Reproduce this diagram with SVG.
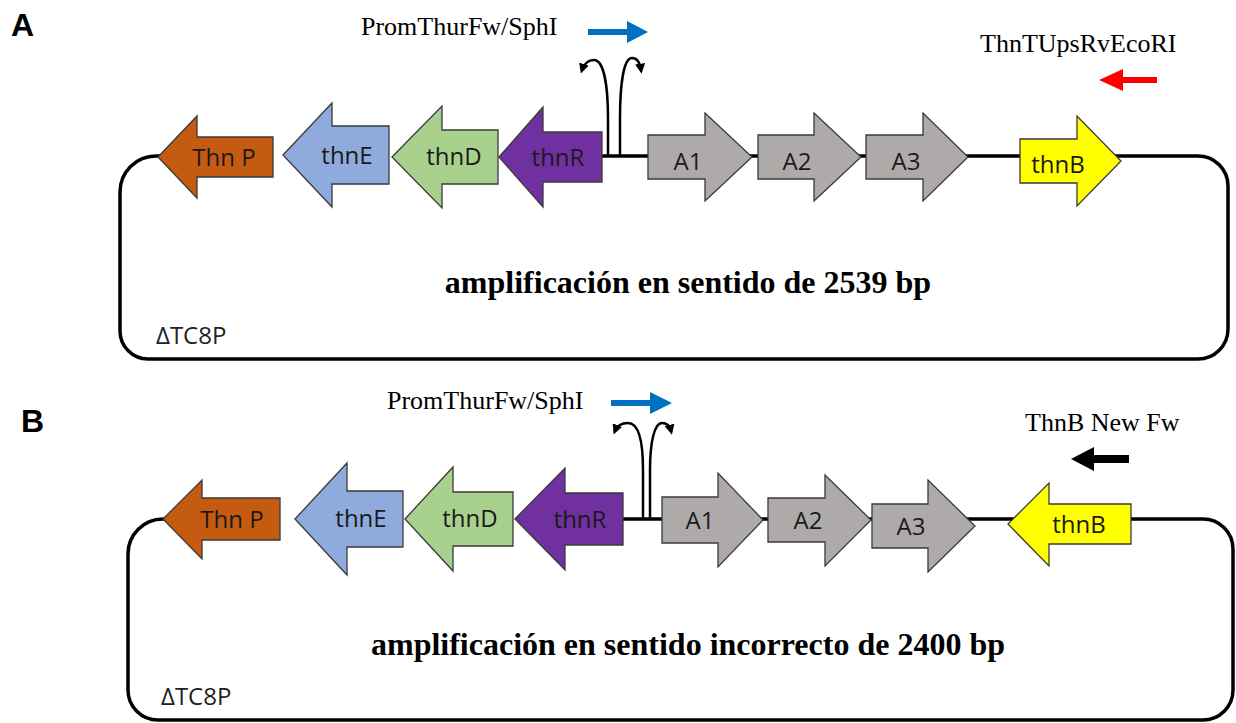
<svg xmlns="http://www.w3.org/2000/svg" width="1236" height="723" viewBox="0 0 1236 723">
<defs>
<style>
.bb{fill:none;stroke:#000;stroke-width:3.5}
.pr{fill:none;stroke:#000;stroke-width:2.5}
.g{stroke:#3a3a3a;stroke-width:1.3}
.lbl{font-family:"Open Sans","Liberation Sans",sans-serif;font-size:24px;fill:#1a1a1a;text-anchor:middle}
.tm{font-family:"Liberation Serif","Times New Roman",serif;font-size:26px;fill:#000}
.tb{font-family:"Liberation Serif","Times New Roman",serif;font-size:32px;font-weight:bold;fill:#000;text-anchor:middle}
.pl{font-family:"Liberation Sans",Arial,sans-serif;font-size:32px;font-weight:bold;fill:#000}
.dt{font-family:"Open Sans","Liberation Sans",sans-serif;font-size:24px;fill:#222}
</style>
<marker id="ah" viewBox="0 0 8 8" refX="5" refY="4" markerWidth="10" markerHeight="10" markerUnits="userSpaceOnUse" orient="auto">
<path d="M0,0 L8,4 L0,8 z" fill="#000"/>
</marker>
</defs>
<rect width="1236" height="723" fill="#fff"/>

<text class="pl" x="11" y="36">A</text>
<text class="pl" x="21" y="432">B</text>

<g id="connectors">
<path class="bb" d="M160,156 L156,156 A36,36 0 0 0 120,192 L120,331 A28,28 0 0 0 148,359 L1198,359 A30,30 0 0 0 1228,329 L1228,186 A30,30 0 0 0 1198,156 L600,156"/>
<path class="pr" d="M608,156 L608,120 C608,82 603,60 594,60 C588,60 584,64 582,70" marker-end="url(#ah)"/>
<path class="pr" d="M620,156 L620,120 C620,82 624,58 632,58 C637,58 640,63 641,70" marker-end="url(#ah)"/>
<path class="bb" d="M165,519 L163,519 A35,35 0 0 0 128,554 L128,690 A30,30 0 0 0 158,720 L1203,720 A30,30 0 0 0 1233,690 L1233,549 A30,30 0 0 0 1203,519 L620,519"/>
<path class="pr" d="M643,519 L643,470 C643,440 638,423 628,423 C621,423 617,426 615,431" marker-end="url(#ah)"/>
<path class="pr" d="M650,519 L650,470 C650,440 655,423 662,423 C667,423 670,427 671,431" marker-end="url(#ah)"/>
</g>

<g id="A-ThnP"><polygon class="g" fill="#C55A11" points="158,157 197,116 197,137 273,137 273,177 197,177 197,198"/><text class="lbl" x="224" y="166">Thn P</text></g>
<g id="A-thnE"><polygon class="g" fill="#8FAADC" points="283,155 332,103 332,126 389,126 389,184 332,184 332,207"/><text class="lbl" x="347" y="164">thnE</text></g>
<g id="A-thnD"><polygon class="g" fill="#A9D18E" points="392,157 442,106 442,130 498,130 498,184 442,184 442,208"/><text class="lbl" x="454" y="165">thnD</text></g>
<g id="A-thnR"><polygon class="g" fill="#7030A0" points="499,157 543,107 543,132 602,132 602,182 543,182 543,207"/><text class="lbl" x="558" y="166">thnR</text></g>
<g id="A-A1"><polygon class="g" fill="#AEAAAA" points="648,135 705,135 705,113 752,157 705,201 705,179 648,179"/><text class="lbl" x="688" y="170">A1</text></g>
<g id="A-A2"><polygon class="g" fill="#AEAAAA" points="758,135 814,135 814,113 861,157 814,201 814,179 758,179"/><text class="lbl" x="797" y="170">A2</text></g>
<g id="A-A3"><polygon class="g" fill="#AEAAAA" points="866,135 923,135 923,113 968,157 923,201 923,179 866,179"/><text class="lbl" x="906" y="170">A3</text></g>
<g id="A-thnB"><polygon class="g" fill="#FFFF00" points="1020,139 1077,139 1077,116 1121,161 1077,206 1077,183 1020,183"/><text class="lbl" x="1058" y="173">thnB</text></g>

<g id="A-primers">
<text class="tm" x="361" y="35">PromThurFw/SphI</text>
<path d="M588,29 L627,29 L627,21 L648,32 L627,43 L627,35 L588,35 z" fill="#0070C0"/>
<text class="tm" x="980" y="52">ThnTUpsRvEcoRI</text>
<path d="M1157,77 L1123,77 L1123,69 L1099,80 L1123,91 L1123,83 L1157,83 z" fill="#FF0000"/>
</g>
<text class="tb" x="688" y="293">amplificación en sentido de 2539 bp</text>
<text class="dt" x="156" y="344">ΔTC8P</text>

<g id="B-ThnP"><polygon class="g" fill="#C55A11" points="163,519 202,480 202,498 280,498 280,540 202,540 202,559"/><text class="lbl" x="232" y="528">Thn P</text></g>
<g id="B-thnE"><polygon class="g" fill="#8FAADC" points="295,519 347,463 347,491 403,491 403,547 347,547 347,575"/><text class="lbl" x="361" y="527">thnE</text></g>
<g id="B-thnD"><polygon class="g" fill="#A9D18E" points="405,519 453,467 453,492 513,492 513,546 453,546 453,571"/><text class="lbl" x="470" y="527">thnD</text></g>
<g id="B-thnR"><polygon class="g" fill="#7030A0" points="515,519 565,468 565,493 623,493 623,545 565,545 565,570"/><text class="lbl" x="580" y="528">thnR</text></g>
<g id="B-A1"><polygon class="g" fill="#AEAAAA" points="662,497 718,497 718,473 763,520 718,567 718,543 662,543"/><text class="lbl" x="700" y="529">A1</text></g>
<g id="B-A2"><polygon class="g" fill="#AEAAAA" points="768,498 825,498 825,475 871,520 825,566 825,542 768,542"/><text class="lbl" x="808" y="529">A2</text></g>
<g id="B-A3"><polygon class="g" fill="#AEAAAA" points="872,504 928,504 928,480 975,526 928,572 928,548 872,548"/><text class="lbl" x="911" y="535">A3</text></g>
<g id="B-thnB"><polygon class="g" fill="#FFFF00" points="1008,524 1049,483 1049,504 1131,504 1131,544 1049,544 1049,566"/><text class="lbl" x="1079" y="533">thnB</text></g>

<g id="B-primers">
<text class="tm" x="387" y="409">PromThurFw/SphI</text>
<path d="M611,400 L650,400 L650,392 L672,403 L650,414 L650,406 L611,406 z" fill="#0070C0"/>
<text class="tm" x="1025" y="431">ThnB New Fw</text>
<path d="M1129,455 L1094,455 L1094,447 L1071,459 L1094,471 L1094,463 L1129,463 z" fill="#000"/>
</g>
<text class="tb" x="688" y="655">amplificación en sentido incorrecto de 2400 bp</text>
<text class="dt" x="161" y="705">ΔTC8P</text>
</svg>
